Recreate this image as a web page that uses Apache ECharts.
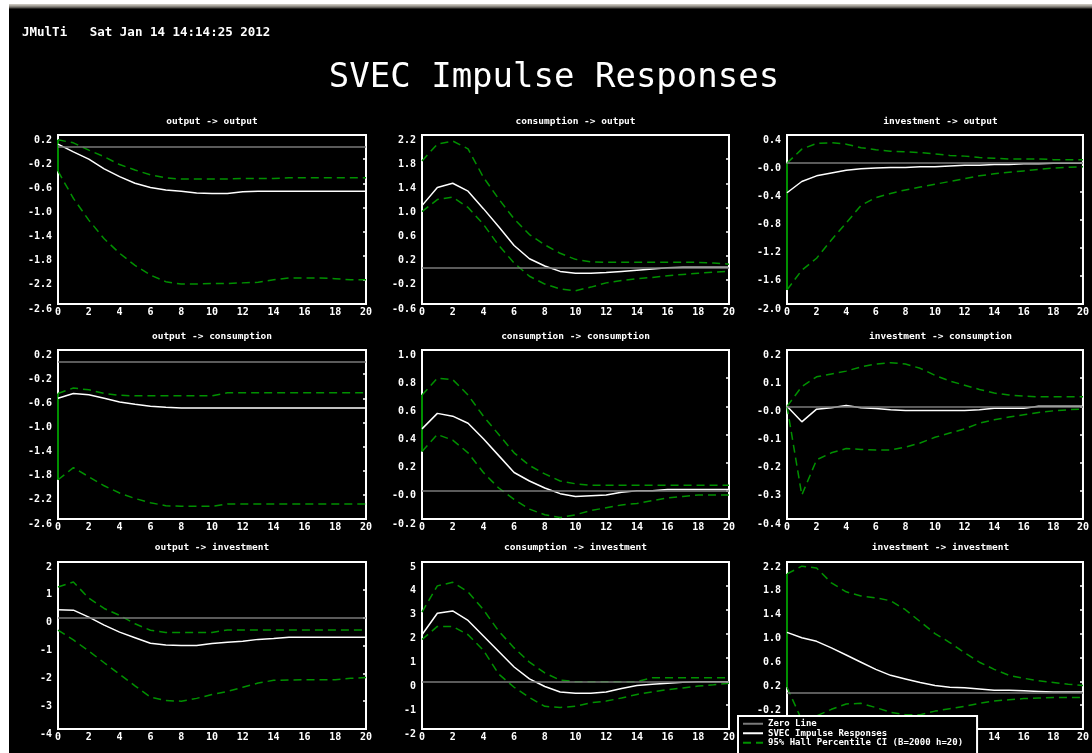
<!DOCTYPE html>
<html><head><meta charset="utf-8">
<script src="https://cdn.jsdelivr.net/npm/echarts@6/dist/echarts.min.js"></script>
<style>
html,body{margin:0;padding:0;background:#fff;width:1092px;height:753px;overflow:hidden}
#bg{position:absolute;left:9px;top:4px;width:1083px;height:749px;background:linear-gradient(#d4d0c8 0px,#a09c94 2px,#4a4844 4px,#000 5px)}
#chart{position:absolute;left:0;top:0;width:1092px;height:753px}
</style></head><body><div id="bg"></div><div id="chart"></div>
<script>
// ---------- data ----------
const periods = [0,1,2,3,4,5,6,7,8,9,10,11,12,13,14,15,16,17,18,19,20];
const xTicks = [0,2,4,6,8,10,12,14,16,18,20];

const panelTitles = [
  'output -> output', 'consumption -> output', 'investment -> output',
  'output -> consumption', 'consumption -> consumption', 'investment -> consumption',
  'output -> investment', 'consumption -> investment', 'investment -> investment'
];

// y tick values and labels, per panel
const ticksOutOut = [-2.6,-2.2,-1.8,-1.4,-1.0,-0.6,-0.2,0.2];
const labelsOutOut = ['-2.6','-2.2','-1.8','-1.4','-1.0','-0.6','-0.2','0.2'];
const ticksConOut = [-0.6,-0.2,0.2,0.6,1.0,1.4,1.8,2.2];
const labelsConOut = ['-0.6','-0.2','0.2','0.6','1.0','1.4','1.8','2.2'];
const ticksInvOut = [-2.0,-1.6,-1.2,-0.8,-0.4,0.0,0.4];
const labelsInvOut = ['-2.0','-1.6','-1.2','-0.8','-0.4','-0.0','0.4'];
const ticksOutCon = [-2.6,-2.2,-1.8,-1.4,-1.0,-0.6,-0.2,0.2];
const labelsOutCon = ['-2.6','-2.2','-1.8','-1.4','-1.0','-0.6','-0.2','0.2'];
const ticksConCon = [-0.2,0.0,0.2,0.4,0.6,0.8,1.0];
const labelsConCon = ['-0.2','-0.0','0.2','0.4','0.6','0.8','1.0'];
const ticksInvCon = [-0.4,-0.3,-0.2,-0.1,0.0,0.1,0.2];
const labelsInvCon = ['-0.4','-0.3','-0.2','-0.1','-0.0','0.1','0.2'];
const ticksOutInv = [-4,-3,-2,-1,0,1,2];
const labelsOutInv = ['-4','-3','-2','-1','0','1','2'];
const ticksConInv = [-2,-1,0,1,2,3,4,5];
const labelsConInv = ['-2','-1','0','1','2','3','4','5'];
const ticksInvInv = [-0.6,-0.2,0.2,0.6,1.0,1.4,1.8,2.2];
const labelsInvInv = ['-0.6','-0.2','0.2','0.6','1.0','1.4','1.8','2.2'];

// responses (white) and 95% Hall percentile CI bounds (green)
const outOut   = [0.05,-0.08,-0.2,-0.36,-0.49,-0.6,-0.67,-0.71,-0.73,-0.76,-0.77,-0.77,-0.74,-0.73,-0.73,-0.73,-0.73,-0.73,-0.73,-0.73,-0.73];
const outOutHi = [0.12,0.07,-0.05,-0.16,-0.29,-0.38,-0.46,-0.51,-0.53,-0.53,-0.53,-0.53,-0.52,-0.52,-0.52,-0.51,-0.51,-0.51,-0.51,-0.51,-0.51];
const outOutLo = [-0.4,-0.85,-1.21,-1.52,-1.76,-1.96,-2.12,-2.23,-2.27,-2.27,-2.26,-2.26,-2.25,-2.24,-2.2,-2.17,-2.17,-2.17,-2.18,-2.2,-2.2];

const conOut   = [1.03,1.33,1.4,1.27,0.98,0.68,0.37,0.15,0.03,-0.06,-0.09,-0.09,-0.08,-0.06,-0.04,-0.02,0.0,0.01,0.01,0.01,0.01];
const conOutHi = [1.77,2.05,2.1,1.97,1.5,1.14,0.81,0.55,0.38,0.24,0.14,0.1,0.09,0.09,0.09,0.09,0.09,0.09,0.09,0.08,0.06];
const conOutLo = [0.93,1.13,1.17,1.0,0.72,0.37,0.08,-0.14,-0.27,-0.35,-0.38,-0.32,-0.25,-0.21,-0.18,-0.16,-0.13,-0.11,-0.09,-0.07,-0.06];

const invOut   = [-0.42,-0.26,-0.18,-0.14,-0.1,-0.08,-0.07,-0.06,-0.06,-0.05,-0.05,-0.04,-0.03,-0.03,-0.02,-0.02,-0.01,-0.01,0.0,0.0,0.0];
const invOutHi = [0.0,0.2,0.28,0.29,0.27,0.22,0.19,0.17,0.16,0.15,0.13,0.11,0.1,0.08,0.07,0.06,0.06,0.06,0.05,0.05,0.05];
const invOutLo = [-1.8,-1.52,-1.35,-1.09,-0.85,-0.6,-0.49,-0.43,-0.38,-0.34,-0.3,-0.26,-0.22,-0.18,-0.15,-0.13,-0.11,-0.09,-0.07,-0.06,-0.05];

const outCon   = [-0.6,-0.52,-0.54,-0.6,-0.66,-0.7,-0.73,-0.75,-0.76,-0.76,-0.76,-0.76,-0.76,-0.76,-0.76,-0.76,-0.76,-0.76,-0.76,-0.76,-0.76];
const outConHi = [-0.52,-0.43,-0.46,-0.52,-0.55,-0.56,-0.56,-0.56,-0.56,-0.56,-0.56,-0.51,-0.51,-0.51,-0.51,-0.51,-0.51,-0.51,-0.51,-0.51,-0.51];
const outConLo = [-1.95,-1.75,-1.9,-2.05,-2.17,-2.26,-2.33,-2.38,-2.39,-2.39,-2.39,-2.35,-2.35,-2.35,-2.35,-2.35,-2.35,-2.35,-2.35,-2.35,-2.35];

const conCon   = [0.44,0.55,0.53,0.48,0.37,0.25,0.13,0.07,0.02,-0.02,-0.04,-0.035,-0.03,-0.01,0.0,0.0,0.01,0.01,0.01,0.01,0.01];
const conConHi = [0.68,0.8,0.79,0.68,0.53,0.4,0.27,0.18,0.12,0.07,0.05,0.04,0.04,0.04,0.04,0.04,0.04,0.04,0.04,0.04,0.04];
const conConLo = [0.28,0.4,0.36,0.27,0.13,0.02,-0.06,-0.13,-0.17,-0.19,-0.17,-0.14,-0.12,-0.1,-0.09,-0.07,-0.05,-0.04,-0.03,-0.03,-0.03];

const invCon   = [0.0,-0.055,-0.01,-0.005,0.003,-0.005,-0.008,-0.012,-0.015,-0.015,-0.015,-0.015,-0.015,-0.012,-0.007,-0.007,-0.007,0.0,0.0,0.0,0.0];
const invConHi = [0.0,0.07,0.105,0.115,0.125,0.14,0.15,0.155,0.15,0.135,0.11,0.09,0.075,0.06,0.047,0.04,0.036,0.034,0.034,0.034,0.034];
const invConLo = [0.0,-0.315,-0.19,-0.165,-0.15,-0.153,-0.155,-0.155,-0.145,-0.13,-0.11,-0.095,-0.08,-0.06,-0.048,-0.038,-0.03,-0.022,-0.016,-0.012,-0.01];

const outInv   = [0.28,0.27,0.02,-0.27,-0.52,-0.72,-0.92,-0.98,-1.0,-1.0,-0.93,-0.88,-0.85,-0.78,-0.75,-0.7,-0.7,-0.7,-0.7,-0.7,-0.7];
const outInvHi = [1.1,1.28,0.7,0.33,0.08,-0.22,-0.45,-0.53,-0.53,-0.53,-0.53,-0.44,-0.44,-0.44,-0.44,-0.44,-0.44,-0.44,-0.44,-0.44,-0.44];
const outInvLo = [-0.45,-0.8,-1.2,-1.62,-2.03,-2.45,-2.85,-2.98,-3.0,-2.9,-2.76,-2.65,-2.5,-2.35,-2.25,-2.24,-2.23,-2.23,-2.23,-2.18,-2.15];

const conInv   = [1.95,2.85,2.95,2.55,1.9,1.25,0.6,0.1,-0.22,-0.45,-0.5,-0.5,-0.45,-0.3,-0.18,-0.12,-0.08,-0.04,-0.02,-0.02,-0.02];
const conInvHi = [2.9,4.0,4.15,3.75,3.0,2.1,1.4,0.8,0.35,0.05,-0.02,-0.02,-0.02,-0.02,-0.02,0.15,0.15,0.15,0.15,0.15,0.15];
const conInvLo = [1.75,2.3,2.3,1.95,1.3,0.3,-0.25,-0.68,-1.05,-1.1,-1.05,-0.9,-0.83,-0.7,-0.55,-0.45,-0.35,-0.28,-0.2,-0.15,-0.08];

const invInv   = [1.02,0.93,0.87,0.76,0.64,0.52,0.4,0.3,0.24,0.18,0.13,0.1,0.09,0.07,0.05,0.05,0.04,0.03,0.02,0.02,0.02];
const invInvHi = [2.0,2.13,2.1,1.85,1.7,1.63,1.6,1.55,1.4,1.2,1.0,0.85,0.68,0.52,0.4,0.3,0.25,0.21,0.18,0.15,0.13];
const invInvLo = [0.1,-0.45,-0.38,-0.27,-0.18,-0.17,-0.24,-0.32,-0.36,-0.36,-0.3,-0.26,-0.22,-0.17,-0.13,-0.11,-0.09,-0.08,-0.07,-0.07,-0.07];

const legendNames = ['Zero Line', 'SVEC Impulse Responses', '95% Hall Percentile CI (B=2000 h=20)'];

// ---------- assembly ----------
const panels = [
  {resp: outOut, hi: outOutHi, lo: outOutLo, ticks: ticksOutOut, labels: labelsOutOut, edge: true},
  {resp: conOut, hi: conOutHi, lo: conOutLo, ticks: ticksConOut, labels: labelsConOut, edge: false},
  {resp: invOut, hi: invOutHi, lo: invOutLo, ticks: ticksInvOut, labels: labelsInvOut, edge: true},
  {resp: outCon, hi: outConHi, lo: outConLo, ticks: ticksOutCon, labels: labelsOutCon, edge: true},
  {resp: conCon, hi: conConHi, lo: conConLo, ticks: ticksConCon, labels: labelsConCon, edge: true},
  {resp: invCon, hi: invConHi, lo: invConLo, ticks: ticksInvCon, labels: labelsInvCon, edge: false},
  {resp: outInv, hi: outInvHi, lo: outInvLo, ticks: ticksOutInv, labels: labelsOutInv, edge: false},
  {resp: conInv, hi: conInvHi, lo: conInvLo, ticks: ticksConInv, labels: labelsConInv, edge: false},
  {resp: invInv, hi: invInvHi, lo: invInvLo, ticks: ticksInvInv, labels: labelsInvInv, edge: true}
];

const colLeft = [58, 422, 787], colWidth = [308, 307, 307];
const rowTop = [135, 350, 562], rowHeight = [169, 169, 167];
const titleY = [122, 337, 548];

const FONT = '"DejaVu Sans Mono", monospace';
const GREEN = '#009000';
const GREY = '#7a7a7a';

const grids = [], xAxes = [], yAxes = [], series = [], graphics = [];

panels.forEach((p, i) => {
  const r = Math.floor(i / 3), c = i % 3;
  grids.push({left: colLeft[c], top: rowTop[r], width: colWidth[c], height: rowHeight[r],
    show: true, borderColor: '#fff', borderWidth: 2, backgroundColor: 'transparent'});
  xAxes.push({type: 'value', gridIndex: i, min: 0, max: 20, interval: 2,
    axisLine: {show: false}, axisTick: {show: false}, splitLine: {show: false},
    axisLabel: {color: '#fff', fontFamily: FONT, fontSize: 10, fontWeight: 'bold', margin: 3,
      customValues: xTicks}});
  const ymin = p.ticks[0], ymax = p.ticks[p.ticks.length - 1];
  const fmt = (v) => {
    const k = p.ticks.findIndex(t => Math.abs(t - v) < 1e-9);
    return k >= 0 ? p.labels[k] : '';
  };
  yAxes.push({type: 'value', gridIndex: i, min: ymin, max: ymax, position: 'left',
    axisLine: {show: false}, axisTick: {show: false}, splitLine: {show: false},
    axisLabel: {color: '#fff', fontFamily: FONT, fontSize: 10, fontWeight: 'bold', margin: 6,
      verticalAlign: 'top', customValues: p.ticks, formatter: fmt}});
  const pair = (arr) => periods.map((x, k) => [x, arr[k]]);
  series.push({type: 'line', name: legendNames[0], xAxisIndex: i, yAxisIndex: i, data: [],
    symbol: 'none', lineStyle: {color: GREY, width: 1.5},
    markLine: {silent: true, symbol: 'none', label: {show: false}, animation: false,
      lineStyle: {color: GREY, width: 1.5, type: 'solid'}, data: [{yAxis: 0}]}});
  series.push({type: 'line', name: legendNames[1], xAxisIndex: i, yAxisIndex: i, data: pair(p.resp),
    symbol: 'none', lineStyle: {color: '#ffffff', width: 1.5}, z: 4});
  series.push({type: 'line', name: legendNames[2], xAxisIndex: i, yAxisIndex: i, data: pair(p.hi),
    symbol: 'none', lineStyle: {color: GREEN, width: 1.5, type: [8, 5]}, z: 3});
  series.push({type: 'line', name: legendNames[2], xAxisIndex: i, yAxisIndex: i, data: pair(p.lo),
    symbol: 'none', lineStyle: {color: GREEN, width: 1.5, type: [8, 5]}, z: 3});
  if (p.edge) {
    series.push({type: 'line', name: 'ci-edge', xAxisIndex: i, yAxisIndex: i,
      data: [[periods[0], p.lo[0]], [periods[0], p.hi[0]]], clip: false,
      symbol: 'none', lineStyle: {color: GREEN, width: 2}, z: 3});
  }
  graphics.push({type: 'text', x: colLeft[c] + colWidth[c] / 2, y: titleY[r],
    style: {text: panelTitles[i], fill: '#fff', font: 'bold 9.5px ' + FONT, align: 'center', verticalAlign: 'middle'}});
});
// right-side mirrored ticks
panels.forEach((p, i) => {
  yAxes.push({type: 'value', gridIndex: i, min: p.ticks[0], max: p.ticks[p.ticks.length - 1], position: 'right',
    axisLine: {show: false}, splitLine: {show: false}, axisLabel: {show: false},
    axisTick: {show: true, inside: true, length: 3, customValues: p.ticks, lineStyle: {color: '#fff', width: 1.5}}});
});

graphics.push({type: 'text', x: 22, y: 33,
  style: {text: 'JMulTi   Sat Jan 14 14:14:25 2012', fill: '#fff', font: 'bold 12.5px ' + FONT, align: 'left', verticalAlign: 'middle'}});
graphics.push({type: 'text', x: 554, y: 78,
  style: {text: 'SVEC Impulse Responses', fill: '#fff', font: '34px ' + FONT, align: 'center', verticalAlign: 'middle'}});

const chart = echarts.init(document.getElementById('chart'), null, {renderer: 'canvas'});
chart.setOption({
  backgroundColor: 'transparent',
  animation: false,
  grid: grids,
  xAxis: xAxes,
  yAxis: yAxes,
  series: series,
  graphic: graphics,
  legend: {
    data: legendNames, orient: 'vertical', left: 738, top: 716, height: 80, width: 260,
    padding: [3, 14, 12, 4], itemGap: 0, itemWidth: 20, itemHeight: 8,
    backgroundColor: '#000', borderColor: '#fff', borderWidth: 2, borderRadius: 0,
    selectedMode: false,
    itemStyle: {opacity: 0},
    textStyle: {color: '#fff', fontFamily: FONT, fontSize: 9, fontWeight: 'bold', lineHeight: 9.5}
  }
});
</script></body></html>
